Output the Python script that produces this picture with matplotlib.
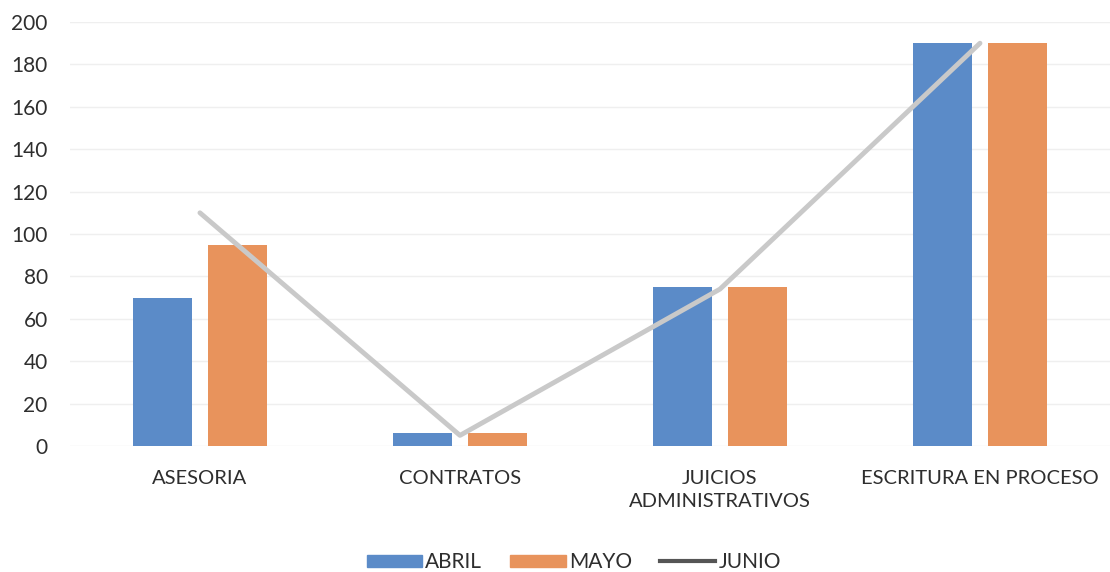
import numpy as np
import matplotlib.pyplot as plt
from matplotlib.lines import Line2D

plt.rcParams['font.family'] = ['Lato', 'DejaVu Sans']

categorias = ["ASESORIA", "CONTRATOS", "JUICIOS\nADMINISTRATIVOS", "ESCRITURA EN PROCESO"]
abril = [70, 6, 75, 190]
mayo = [95, 6, 75, 190]
junio = [110, 5, 74, 190]

azul = "#5b8bc8"
naranja = "#e8935c"
gris = "#c9c9c9"
texto = "#2e2e2e"

fig = plt.figure(figsize=(11.1, 5.72), dpi=100)
ax = fig.add_axes([0.063, 0.2203, 0.937, 0.7412])

x = np.arange(len(categorias))
ancho = 0.227
sep = 0.144
ax.bar(x - sep, abril, ancho, color=azul, zorder=2)
ax.bar(x + sep, mayo, ancho, color=naranja, zorder=2)
ax.plot(x, junio, color=gris, lw=3.5, solid_capstyle='round',
        solid_joinstyle='round', zorder=3)

ax.set_xlim(-0.5, len(categorias) - 0.5)
ax.set_ylim(0, 200)
ax.set_yticks(range(0, 201, 20))
ax.set_xticks(x)
ax.set_xticklabels(categorias, fontsize=14.5, color=texto, linespacing=1.45)
ax.tick_params(axis='y', labelsize=15, colors=texto, length=0, pad=16)
ax.tick_params(axis='x', length=0, pad=17)
ax.grid(axis='y', color="#efefef", lw=1, zorder=0)
for s in ax.spines.values():
    s.set_visible(False)

handles = [
    plt.Rectangle((0, 0), 1, 1, color=azul),
    plt.Rectangle((0, 0), 1, 1, color=naranja),
    Line2D([0], [0], color="#555555", lw=3),
]
fig.legend(handles, ["ABRIL", "MAYO", "JUNIO"], loc='center', bbox_to_anchor=(0.517, 0.017),
           ncol=3, frameon=False, fontsize=15, handlelength=2.65, handleheight=0.55,
           handletextpad=0.15, columnspacing=1.35, labelcolor=texto)

fig.savefig("out.png", dpi=100)
